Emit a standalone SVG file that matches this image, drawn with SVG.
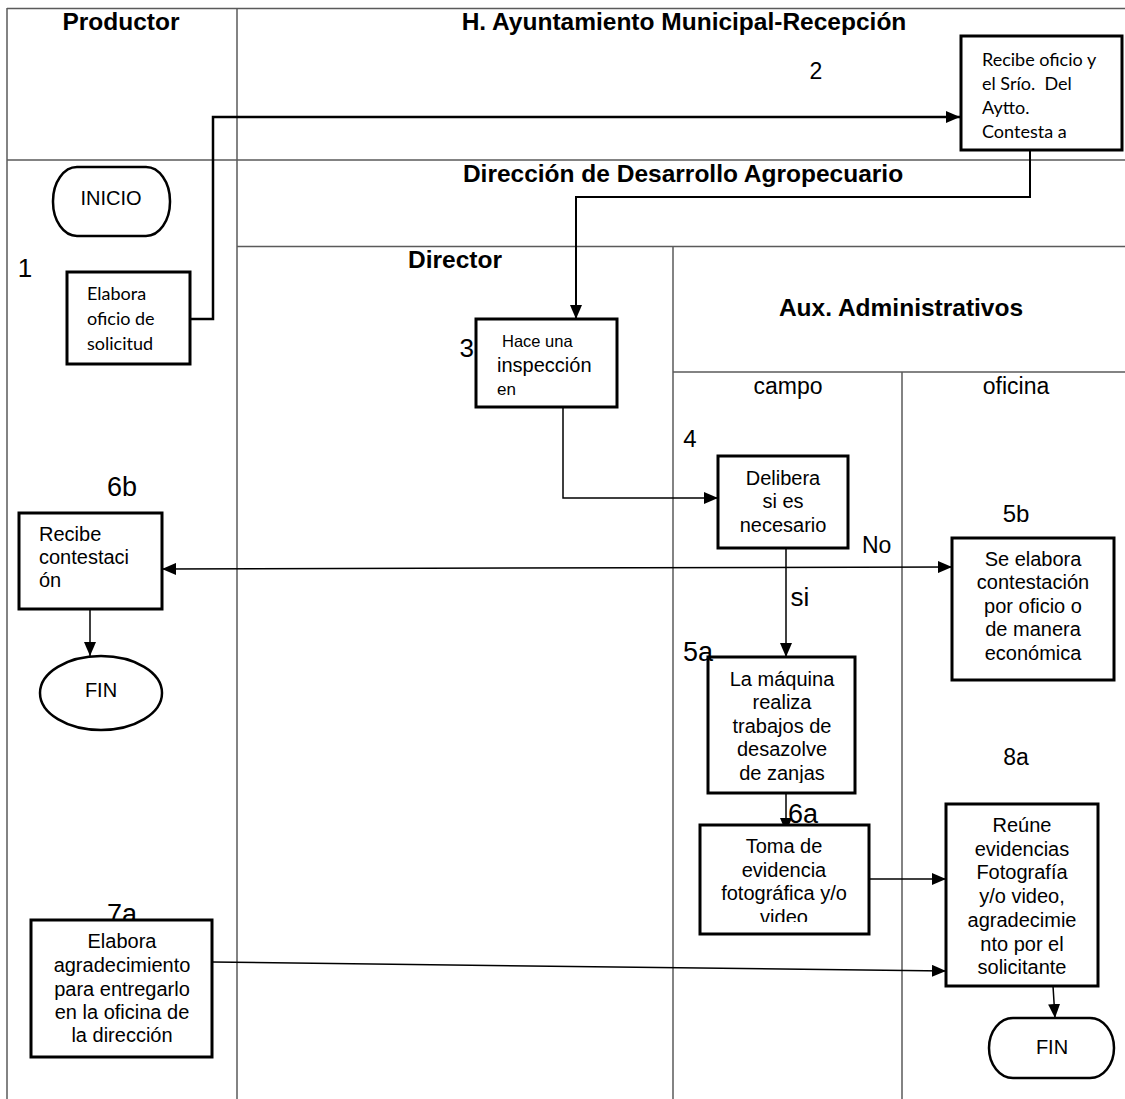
<svg xmlns="http://www.w3.org/2000/svg" width="1125" height="1099" viewBox="0 0 1125 1099">
<style>
.grid{stroke:#5a5a5a;stroke-width:1.5;fill:none}
.box{fill:#fff;stroke:#000;stroke-width:3}
.term{fill:#fff;stroke:#000;stroke-width:2.5}
.c{fill:none;stroke:#000;stroke-width:1.5}
.title{font-family:"Liberation Sans",Arial,sans-serif;font-weight:bold;font-size:24.5px;text-anchor:middle;fill:#000}
.t{font-family:"Liberation Sans",Arial,sans-serif;font-size:20px;fill:#000}
.m{text-anchor:middle}
.num{font-family:"Liberation Sans",Arial,sans-serif;font-size:26px;fill:#000}
.cal{font-family:Lato,"Liberation Sans",sans-serif;font-size:18px;fill:#000}
</style>
<defs>
<marker id="ah" markerUnits="userSpaceOnUse" markerWidth="14" markerHeight="12" refX="14" refY="6" orient="auto">
<path d="M0,0 L14,6 L0,12 Z" fill="#000"/>
</marker>
<marker id="as" markerUnits="userSpaceOnUse" markerWidth="14" markerHeight="12" refX="0" refY="6" orient="auto">
<path d="M14,0 L0,6 L14,12 Z" fill="#000"/>
</marker>
<clipPath id="clip5a"><rect x="708" y="657" width="147" height="126"/></clipPath>
<clipPath id="clip6a"><rect x="700" y="825" width="169" height="97"/></clipPath>
</defs>
<rect width="1125" height="1099" fill="#fff"/>
<g id="lanes">
<line class="grid" x1="7" y1="8.5" x2="1125" y2="8.5"/>
<line class="grid" x1="7" y1="8" x2="7" y2="1099"/>
<line class="grid" x1="237" y1="8" x2="237" y2="1099"/>
<line class="grid" x1="7" y1="160" x2="1125" y2="160"/>
<line class="grid" x1="237" y1="246.5" x2="1125" y2="246.5"/>
<line class="grid" x1="673" y1="246.5" x2="673" y2="1099"/>
<line class="grid" x1="673" y1="372" x2="1125" y2="372"/>
<line class="grid" x1="902" y1="372" x2="902" y2="1099"/>
<text class="title" x="121" y="30">Productor</text>
<text class="title" x="684" y="30">H. Ayuntamiento Municipal-Recepción</text>
<text class="title" x="683" y="182">Dirección de Desarrollo Agropecuario</text>
<text class="title" x="455" y="268">Director</text>
<text class="title" x="901" y="316">Aux. Administrativos</text>
<text class="t m" x="788" y="394" style="font-size:23px">campo</text>
<text class="t m" x="1016" y="394" style="font-size:23px">oficina</text>
</g>
<g id="connectors">
<polyline class="c" style="stroke-width:2.5" points="190,319 213,319 213,117 960,117" marker-end="url(#ah)"/>
<polyline class="c" style="stroke-width:2" points="1030,150 1030,197 576,197 576,319" marker-end="url(#ah)"/>
<polyline class="c" points="563,407 563,498 718,498" marker-end="url(#ah)"/>
<line class="c" x1="162" y1="569" x2="952" y2="567" marker-start="url(#as)" marker-end="url(#ah)"/>
<line class="c" x1="786" y1="548" x2="786" y2="657" marker-end="url(#ah)"/>
<line class="c" x1="786" y1="793" x2="786" y2="832" marker-end="url(#ah)"/>
<line class="c" x1="869" y1="879" x2="946" y2="879" marker-end="url(#ah)"/>
<line class="c" x1="212" y1="962" x2="946" y2="971" marker-end="url(#ah)"/>
<line class="c" x1="1053" y1="986" x2="1055" y2="1018" marker-end="url(#ah)"/>
<text class="t" x="862" y="553" style="font-size:23px">No</text>
<text class="t m" x="800" y="606" style="font-size:26px">si</text>
</g>
<g id="inicio">
<rect class="term" x="53" y="167" width="117" height="69" rx="24" ry="34"/>
<text class="t m" x="111" y="205">INICIO</text>
</g>
<g id="n1">
<rect class="box" x="67" y="272" width="123" height="92"/>
<text class="cal" x="87" y="300">Elabora</text>
<text class="cal" x="87" y="325">oficio de</text>
<text class="cal" x="87" y="350">solicitud</text>
<text class="num" x="25" y="277" text-anchor="middle">1</text>
</g>
<g id="n2">
<rect class="box" x="961" y="36" width="161" height="114"/>
<text class="cal" x="982" y="66">Recibe oficio y</text>
<text class="cal" x="982" y="90" xml:space="preserve">el Srío.  Del</text>
<text class="cal" x="982" y="114">Aytto.</text>
<text class="cal" x="982" y="138">Contesta a</text>
<text class="num" x="816" y="79" text-anchor="middle" style="font-size:23px">2</text>
</g>
<g id="n3">
<rect class="box" x="476" y="319" width="141" height="88"/>
<text class="t" x="502" y="347" style="font-size:16.5px">Hace una</text>
<text class="t" x="497" y="372">inspección</text>
<text class="t" x="497" y="395" style="font-size:17px">en</text>
<text class="num" x="474" y="357" text-anchor="end">3</text>
</g>
<g id="n4">
<rect class="box" x="718" y="456" width="130" height="92"/>
<text class="t m" x="783" y="485">Delibera</text>
<text class="t m" x="783" y="508">si es</text>
<text class="t m" x="783" y="532">necesario</text>
<text class="num" x="690" y="447" text-anchor="middle" style="font-size:24px">4</text>
</g>
<g id="n5b">
<rect class="box" x="952" y="538" width="162" height="142"/>
<text class="t m" x="1033" y="566">Se elabora</text>
<text class="t m" x="1033" y="589">contestación</text>
<text class="t m" x="1033" y="613">por oficio o</text>
<text class="t m" x="1033" y="636">de manera</text>
<text class="t m" x="1033" y="660">económica</text>
<text class="num" x="1016" y="522" text-anchor="middle" style="font-size:24px">5b</text>
</g>
<g id="n6b">
<rect class="box" x="19" y="513" width="143" height="96"/>
<text class="t" x="39" y="541">Recibe</text>
<text class="t" x="39" y="564">contestaci</text>
<text class="t" x="39" y="587">ón</text>
<text class="num" x="122" y="496" text-anchor="middle" style="font-size:27px">6b</text>
</g>
<g id="fin1">
<ellipse class="term" cx="101" cy="693" rx="61" ry="37"/>
<text class="t m" x="101" y="697">FIN</text>
<line class="c" x1="90" y1="609" x2="90" y2="656" marker-end="url(#ah)"/>
</g>
<g id="n5a">
<rect class="box" x="708" y="657" width="147" height="136"/>
<g clip-path="url(#clip5a)">
<text class="t m" x="782" y="686">La máquina</text>
<text class="t m" x="782" y="709">realiza</text>
<text class="t m" x="782" y="733">trabajos de</text>
<text class="t m" x="782" y="756">desazolve</text>
<text class="t m" x="782" y="780">de zanjas</text>
</g>
<text class="num" x="683" y="661" style="font-size:27px">5a</text>
</g>
<g id="n6a">
<rect class="box" x="700" y="825" width="169" height="109"/>
<g clip-path="url(#clip6a)">
<text class="t m" x="784" y="853">Toma de</text>
<text class="t m" x="784" y="877">evidencia</text>
<text class="t m" x="784" y="900">fotográfica y/o</text>
<text class="t m" x="784" y="924">video</text>
</g>
<text class="num" x="788" y="823" style="font-size:27px">6a</text>
</g>
<g id="n8a">
<rect class="box" x="946" y="804" width="152" height="182"/>
<text class="t m" x="1022" y="832">Reúne</text>
<text class="t m" x="1022" y="856">evidencias</text>
<text class="t m" x="1022" y="879">Fotografía</text>
<text class="t m" x="1022" y="903">y/o video,</text>
<text class="t m" x="1022" y="927">agradecimie</text>
<text class="t m" x="1022" y="951">nto por el</text>
<text class="t m" x="1022" y="974">solicitante</text>
<text class="num" x="1016" y="765" text-anchor="middle" style="font-size:23px">8a</text>
</g>
<g id="n7a">
<text class="num" x="122" y="923" text-anchor="middle" style="font-size:27px">7a</text>
<rect class="box" x="31" y="920" width="181" height="137"/>
<text class="t m" x="122" y="948">Elabora</text>
<text class="t m" x="122" y="972">agradecimiento</text>
<text class="t m" x="122" y="996">para entregarlo</text>
<text class="t m" x="122" y="1019">en la oficina de</text>
<text class="t m" x="122" y="1042">la dirección</text>
</g>
<g id="fin2">
<rect class="term" x="989" y="1018" width="125" height="60" rx="24" ry="30"/>
<text class="t m" x="1052" y="1054">FIN</text>
</g>
</svg>
